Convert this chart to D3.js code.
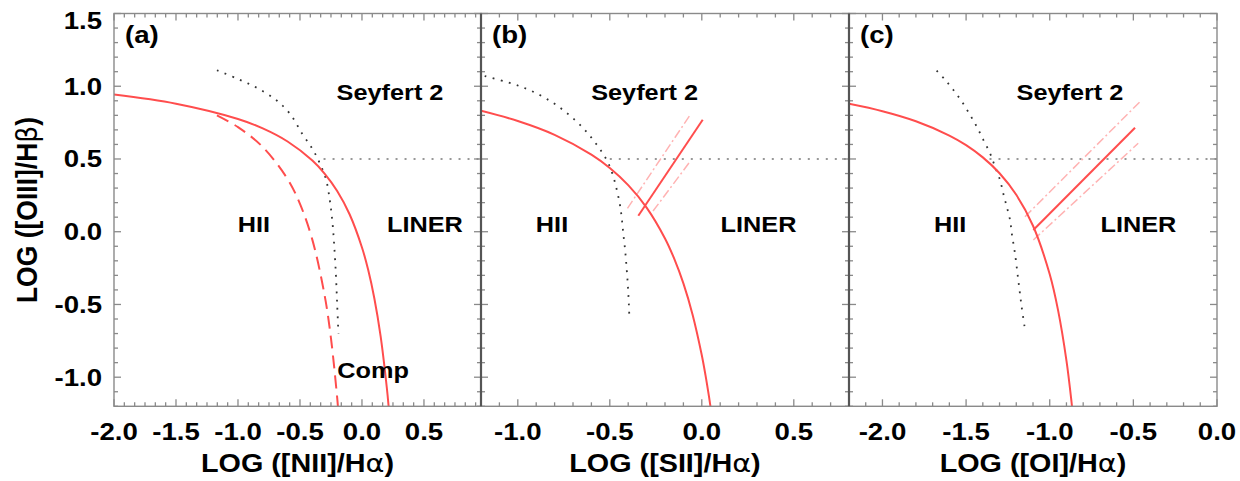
<!DOCTYPE html>
<html>
<head>
<meta charset="utf-8">
<script src="https://cdn.jsdelivr.net/npm/d3@7"></script>
<style>
  body { margin: 0; background: #fff; }
  svg { display: block; }
  text { font-family: "Liberation Sans", Arial, Helvetica, sans-serif; font-weight: bold; fill: #000; }
</style>
</head>
<body>
<svg id="chart" width="1240" height="481"></svg>
<script>
// ---- panel setup ----
const panelTags   = ["(a)", "(b)", "(c)"];
const xDomains    = [[-2.0, 0.96], [-1.2, 0.8], [-2.2, 0.0]];
const xTickValues = [[-2.0, -1.5, -1.0, -0.5, 0.0, 0.5], [-1.0, -0.5, 0.0, 0.5], [-2.0, -1.5, -1.0, -0.5, 0.0]];
const xMinorParts = [6, 5, 5];   // minor divisions between labelled x ticks
const xTitles     = ["LOG ([NII]/H", "LOG ([SII]/H", "LOG ([OI]/H"];
const yDomain     = [-1.2, 1.5];
const yTickValues = [-1.0, -0.5, 0.0, 0.5, 1.0, 1.5];
const yTitle      = "LOG ([OIII]/H";

// ---- maximum-starburst curves (red solid) ----
const maxStarburstA = [[-2.0, 0.943], [-1.5, 0.880], [-1.0, 0.775], [-0.8, 0.710], [-0.6, 0.620], [-0.4, 0.489], [-0.3, 0.398],
                       [-0.2, 0.280], [-0.1, 0.120], [0.0, -0.108], [0.05, -0.262], [0.1, -0.459], [0.15, -0.716], [0.2, -1.069], [0.215, -1.2]];
const maxStarburstB = [[-1.2, 0.831], [-1.0, 0.761], [-0.8, 0.666], [-0.6, 0.530], [-0.5, 0.438], [-0.4, 0.320], [-0.3, 0.166],
                       [-0.2, -0.046], [-0.15, -0.185], [-0.1, -0.355], [-0.05, -0.570], [0.0, -0.849], [0.02, -0.986],
                       [0.04, -1.141], [0.047, -1.2]];
const maxStarburstC = [[-2.2, 0.879], [-2.0, 0.828], [-1.8, 0.759], [-1.6, 0.661], [-1.5, 0.595], [-1.4, 0.511], [-1.3, 0.402],
                       [-1.2, 0.254], [-1.1, 0.041], [-1.0, -0.293], [-0.95, -0.541], [-0.9, -0.886], [-0.87, -1.167], [-0.867, -1.2]];

// ---- pure star-forming boundary (red dashed, panel a) ----
const pureSF = [[-1.17, 0.80], [-1.0, 0.719], [-0.8, 0.582], [-0.6, 0.362], [-0.5, 0.191], [-0.4, -0.056], [-0.3, -0.443],
                [-0.25, -0.733], [-0.2, -1.14], [-0.194, -1.2]];

// ---- older empirical boundaries (black dotted) ----
const oldBoundA = [[-1.17, 1.11], [-1.0, 1.05], [-0.85, 0.99], [-0.7, 0.91], [-0.58, 0.81], [-0.48, 0.67], [-0.40, 0.57],
                   [-0.34, 0.47], [-0.29, 0.36], [-0.26, 0.22], [-0.24, 0.08], [-0.225, -0.08], [-0.21, -0.30], [-0.20, -0.50], [-0.19, -0.70]];
const oldBoundB = [[-1.18, 1.07], [-1.06, 1.029], [-0.97, 0.991], [-0.889, 0.945], [-0.816, 0.892], [-0.753, 0.836], [-0.689, 0.767],
                   [-0.635, 0.699], [-0.59, 0.63], [-0.544, 0.55], [-0.508, 0.471], [-0.481, 0.379], [-0.462, 0.288], [-0.445, 0.185],
                   [-0.435, 0.094], [-0.427, -0.009], [-0.417, -0.123], [-0.408, -0.26], [-0.401, -0.386], [-0.396, -0.512], [-0.394, -0.575]];
const oldBoundC = [[-1.676, 1.108], [-1.626, 1.045], [-1.577, 0.976], [-1.526, 0.896], [-1.477, 0.804], [-1.437, 0.724],
                   [-1.397, 0.632], [-1.357, 0.539], [-1.327, 0.447], [-1.297, 0.355], [-1.278, 0.264], [-1.257, 0.172],
                   [-1.237, 0.08], [-1.227, -0.011], [-1.208, -0.148], [-1.188, -0.332], [-1.168, -0.515], [-1.148, -0.671]];

// ---- Seyfert / LINER division (solid) with its spread (light dash-dot) ----
const syLinerB      = [[-0.345, 0.11], [0.005, 0.77]];
const syLinerBUpper = [[-0.404, 0.161], [-0.065, 0.80]];
const syLinerBLower = [[-0.265, 0.142], [-0.07, 0.472]];
const syLinerC      = [[-1.098, 0.012], [-0.49, 0.715]];
const syLinerCUpper = [[-1.148, 0.103], [-0.461, 0.893]];
const syLinerCLower = [[-1.098, -0.057], [-0.471, 0.608]];

// ---- horizontal Seyfert threshold (dotted), start x per panel ----
const seyfertLevel = 0.5;
const seyfertFrom  = [-0.31, -0.50, -1.36];

// ---- region labels: [text, x, y] in data units (text centre) ----
const labelsA = [["Seyfert 2", 0.226, 0.962], ["HII", -0.871, 0.056], ["LINER", 0.508, 0.056], ["Comp", 0.089, -0.948]];
const labelsB = [["Seyfert 2", -0.311, 0.962], ["HII", -0.814, 0.056], ["LINER", 0.308, 0.056]];
const labelsC = [["Seyfert 2", -0.879, 0.962], ["HII", -1.596, 0.056], ["LINER", -0.470, 0.056]];

const panels = [
  { solid: maxStarburstA, dashed: pureSF, dotted: oldBoundA, sy: null, labels: labelsA },
  { solid: maxStarburstB, dashed: null,   dotted: oldBoundB, sy: [syLinerB, syLinerBUpper, syLinerBLower], labels: labelsB },
  { solid: maxStarburstC, dashed: null,   dotted: oldBoundC, sy: [syLinerC, syLinerCUpper, syLinerCLower], labels: labelsC }
];

// ---- layout ----
const svg = d3.select("#chart");
const panelEdges = [114, 481, 849, 1217];
const plotTop = 13.5, plotBottom = 406.3;
const STRETCH = 1.15;          // glyphs are set slightly wide
const RED = "#ff4d4d", PINK = "#ffb3b3", AXIS = "#8a8a8a";
const fmt = v => d3.format(".1f")(v).replace("\u2212", "-");

const y = d3.scaleLinear().domain(yDomain).range([plotBottom, plotTop]);
const yMinor = d3.range(-12, 16).map(d => d / 10);

function wideText(g, str, x, yy, size, anchor) {
  return g.append("text")
    .attr("transform", `translate(${x},${yy}) scale(${STRETCH},1)`)
    .attr("text-anchor", anchor || "middle")
    .style("font-size", size + "px")
    .text(str);
}

panels.forEach((p, i) => {
  const x = d3.scaleLinear().domain(xDomains[i]).range([panelEdges[i], panelEdges[i + 1]]);
  const g = svg.append("g");
  const x0 = panelEdges[i], x1 = panelEdges[i + 1];

  // clip region for the curves
  const clipId = "clip" + i;
  svg.append("clipPath").attr("id", clipId)
    .append("rect").attr("x", x0).attr("y", plotTop).attr("width", x1 - x0).attr("height", plotBottom - plotTop);
  const plot = g.append("g").attr("clip-path", `url(#${clipId})`);

  const line = d3.line().x(d => x(d[0])).y(d => y(d[1]));
  const smooth = d3.line().x(d => x(d[0])).y(d => y(d[1])).curve(d3.curveCatmullRom.alpha(0.5));

  // Seyfert threshold
  plot.append("path")
    .attr("d", line([[seyfertFrom[i], seyfertLevel], [xDomains[i][1], seyfertLevel]]))
    .attr("fill", "none").attr("stroke", "#777").attr("stroke-width", 1.6)
    .attr("stroke-dasharray", "2,7");

  // old empirical boundary
  plot.append("path").attr("d", smooth(p.dotted))
    .attr("fill", "none").attr("stroke", "#333").attr("stroke-width", 1.8)
    .attr("stroke-dasharray", "1.8,6.5");

  // Seyfert/LINER division
  if (p.sy) {
    [p.sy[1], p.sy[2]].forEach(seg => {
      plot.append("path").attr("d", line(seg))
        .attr("fill", "none").attr("stroke", PINK).attr("stroke-width", 1.5)
        .attr("stroke-dasharray", "9,3,2,3");
    });
    plot.append("path").attr("d", line(p.sy[0]))
      .attr("fill", "none").attr("stroke", RED).attr("stroke-width", 2);
  }

  if (p.dashed) {
    plot.append("path").attr("d", smooth(p.dashed))
      .attr("fill", "none").attr("stroke", RED).attr("stroke-width", 2)
      .attr("stroke-dasharray", "13,7");
  }

  plot.append("path").attr("d", smooth(p.solid))
    .attr("fill", "none").attr("stroke", RED).attr("stroke-width", 2);

  // frame
  g.append("rect").attr("x", x0).attr("y", plotTop).attr("width", x1 - x0).attr("height", plotBottom - plotTop)
    .attr("fill", "none").attr("stroke", AXIS).attr("stroke-width", 1.4);

  // inward ticks on all four sides
  const step = 0.5 / xMinorParts[i];
  const xMinor = d3.range(Math.ceil(xDomains[i][0] / step - 1e-6), Math.floor(xDomains[i][1] / step + 1e-6) + 1).map(k => k * step);
  const isMajor = v => Math.abs(v * 2 - Math.round(v * 2)) < 1e-6;
  const ticks = g.append("g").attr("stroke", AXIS).attr("stroke-width", 1.3);
  xMinor.forEach(v => {
    const len = isMajor(v) ? 7 : 4;
    ticks.append("line").attr("x1", x(v)).attr("x2", x(v)).attr("y1", plotBottom).attr("y2", plotBottom - len);
    ticks.append("line").attr("x1", x(v)).attr("x2", x(v)).attr("y1", plotTop).attr("y2", plotTop + len);
  });
  yMinor.forEach(v => {
    const len = isMajor(v) ? 7 : 4;
    ticks.append("line").attr("x1", x0).attr("x2", x0 + len).attr("y1", y(v)).attr("y2", y(v));
    ticks.append("line").attr("x1", x1).attr("x2", x1 - len).attr("y1", y(v)).attr("y2", y(v));
  });

  // x tick labels
  xTickValues[i].forEach(v => wideText(g, fmt(v), x(v), 440, 24));

  // x title
  const t = wideText(g, xTitles[i], (x0 + x1) / 2, 472, 25);
  t.append("tspan").style("font-weight", "normal").style("font-family", "'DejaVu Sans', sans-serif").text("α");
  t.append("tspan").text(")");

  // panel tag
  wideText(g, panelTags[i], x0 + 11, 43, 24, "start");

  // region labels, centred on their anchor point
  p.labels.forEach(l => wideText(g, l[0], x(l[1]), y(l[2]) + 8, 22));
});

// a heavier line where panels meet
[panelEdges[1], panelEdges[2]].forEach(px => {
  svg.append("line").attr("x1", px).attr("x2", px).attr("y1", plotTop).attr("y2", plotBottom)
    .attr("stroke", "#555").attr("stroke-width", 2.2);
});

// y tick labels (top label kept inside the page)
yTickValues.forEach(v => {
  const yy = Math.max(y(v), 20) + 8.5;
  wideText(svg, fmt(v), 102, yy, 24, "end");
});

// y title
const yt = svg.append("text")
  .attr("transform", `translate(37,210) rotate(-90) scale(1,1.1)`)
  .attr("text-anchor", "middle")
  .style("font-size", "26.5px")
  .text(yTitle);
yt.append("tspan").style("font-weight", "normal").style("font-family", "'DejaVu Sans', sans-serif").text("β");
yt.append("tspan").text(")");
</script>
</body>
</html>
